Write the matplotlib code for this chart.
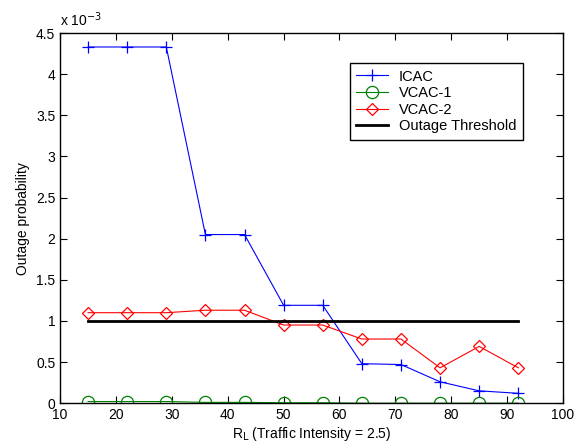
import numpy as np
import matplotlib
matplotlib.use("Agg")
import matplotlib.pyplot as plt

plt.rcParams['font.family'] = ['Liberation Sans', 'DejaVu Sans']

r_l = [15, 22, 29, 36, 43, 50, 57, 64, 71, 78, 85, 92]
icac = [4.33, 4.33, 4.33, 2.05, 2.05, 1.19, 1.19, 0.48, 0.47, 0.26, 0.15, 0.12]
vcac1 = [0.02, 0.02, 0.02, 0.01, 0.01, 0.005, 0.005, 0.0, 0.0, 0.0, 0.0, 0.0]
vcac2 = [1.10, 1.10, 1.10, 1.13, 1.13, 0.95, 0.95, 0.78, 0.78, 0.43, 0.69, 0.43]
threshold = 1.0

fig = plt.figure(figsize=(5.84, 4.46), dpi=100)
ax = fig.add_axes([0.103, 0.096, 0.861, 0.830])

ax.plot(r_l, icac, color='b', lw=0.8, marker='+', ms=9, mew=0.9, label='ICAC')
ax.plot(r_l, vcac1, color='#008000', lw=0.8, marker='o', ms=8.8, mew=0.9, mfc='none', label='VCAC-1')
ax.plot(r_l, vcac2, color='r', lw=0.8, marker='D', ms=6.3, mew=0.9, mfc='none', label='VCAC-2')
ax.plot([r_l[0], r_l[-1]], [threshold, threshold], color='k', lw=2, label='Outage Threshold')

ax.set_xlim(10, 100)
ax.set_ylim(0, 4.5)
ax.set_xticks(np.arange(10, 101, 10))
ax.set_yticks(np.arange(0, 4.51, 0.5))
ax.set_yticklabels(['0', '0.5', '1', '1.5', '2', '2.5', '3', '3.5', '4', '4.5'])
ax.tick_params(direction='in', top=True, right=True, labelsize=10, length=5)
for s in ax.spines.values():
    s.set_linewidth(1)

ax.text(0.0, 1.012, r'x 10$^{-3}$', transform=ax.transAxes, fontsize=10, va='bottom')
ax.set_xlabel(r'R$_\mathrm{L}$ (Traffic Intensity = 2.5)', fontsize=10, labelpad=2)
ax.set_ylabel('Outage probability', fontsize=10)

leg = ax.legend(loc='upper right', bbox_to_anchor=(0.92, 0.919), borderaxespad=0, fontsize=10.5,
                fancybox=False, edgecolor='k', framealpha=1, borderpad=0.45, labelspacing=0.18,
                handlelength=2.2, handletextpad=0.7)
leg.get_frame().set_linewidth(1)

fig.savefig('out.png', dpi=100)
